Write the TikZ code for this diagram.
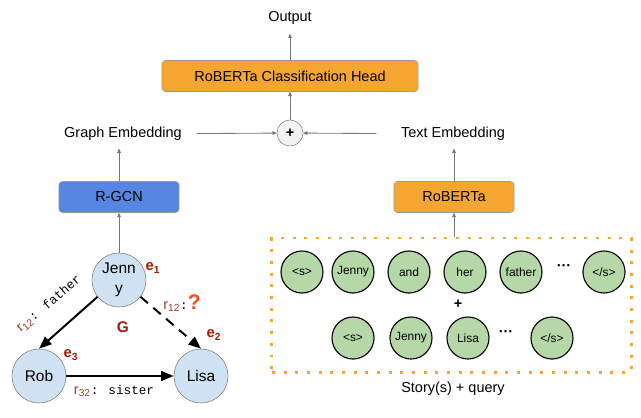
\documentclass[tikz,border=0pt]{standalone}
\usepackage{fontspec}
\setmainfont{Liberation Sans}
\newfontfamily\monofont{Liberation Mono}
\usetikzlibrary{positioning,arrows.meta,shapes.geometric,calc}
\definecolor{headorange}{HTML}{F5A631}
\definecolor{gcnblue}{HTML}{5586E1}
\definecolor{entblue}{HTML}{CFE2F3}
\definecolor{tokgreen}{HTML}{B6D7A8}
\definecolor{relred}{HTML}{A63A28}
\definecolor{entred}{HTML}{A61C00}
\definecolor{qorange}{HTML}{F4511E}
\definecolor{linegray}{HTML}{777777}

\begin{document}
\begin{tikzpicture}[x=0.025cm, y=-0.025cm,
  every node/.style={font=\fontsize{10.3}{12}\selectfont},
  layer/.style={draw=black!40, rounded corners=2.5pt, minimum height=0.775cm, align=center},
  ent/.style={circle, draw=black!50, fill=entblue, minimum size=1.35cm, inner sep=0pt, align=center, font=\fontsize{11}{14}\selectfont},
  tok/.style={circle, draw=black, line width=0.8pt, fill=tokgreen, minimum size=1.05cm, inner sep=0pt, font=\fontsize{8.5}{10}\selectfont},
  flow/.style={draw=linegray, line width=0.6pt, -{Triangle[length=3pt,width=2.6pt]}},
  rel/.style={line width=1.4pt, -{Triangle[length=9pt,width=7pt]}},
  elabel/.style={text=entred, font=\fontsize{10.5}{12}\selectfont\bfseries}
]
\useasboundingbox (0,0) rectangle (641,417);

% model stack
\node (out) at (290,18) {Output};
\node[layer, fill=headorange, minimum width=6.4cm] (head) at (290,76) {RoBERTa Classification Head};
\node[circle, draw=black!50, fill=black!5, minimum size=0.65cm, inner sep=0pt] (plus) at (290,133) {\bfseries +};
\node (gemb) at (123,134) {Graph Embedding};
\node (temb) at (453,134) {Text Embedding};
\node[layer, fill=gcnblue, minimum width=3cm] (rgcn) at (119,197) {R-GCN};
\node[layer, fill=headorange, minimum width=3cm] (roberta) at (454,197) {RoBERTa};

% graph G
\node[ent] (jenny) at (119,280) {Jenn\\y};
\node[ent] (rob) at (39,376) {Rob};
\node[ent] (lisa) at (201,376) {Lisa};
\node[elabel] (e1) at (153,268) {e\textsubscript{1}};
\node[elabel] (e2) at (214,335) {e\textsubscript{2}};
\node[elabel] (e3) at (71,355) {e\textsubscript{3}};
\node[elabel, font=\fontsize{11}{12}\selectfont\bfseries] (glbl) at (123,327) {G};

\draw[rel] (jenny.218) -- (rob.north);
\draw[rel, dash pattern=on 7pt off 5pt] (jenny.322) -- (lisa.north);
\draw[rel] (rob) -- (lisa);

\node[rotate=41, inner sep=1pt] (rfather) at (49,304) {\textcolor{relred}{r\textsubscript{12}}{\monofont\fontsize{9}{10}\selectfont: father}};
\node[inner sep=1pt] (rquery) at (182,303) {\textcolor{relred}{r\textsubscript{12}}{\monofont\fontsize{9}{10}\selectfont:}\textcolor{qorange}{\fontsize{15}{15}\selectfont\bfseries ?}};
\node[inner sep=1pt] (rsister) at (114,391) {\textcolor{relred}{r\textsubscript{32}}{\monofont\fontsize{9}{10}\selectfont: sister}};

% story and query tokens
\node[draw=headorange, line width=2.1pt, dash pattern=on 2.1pt off 6.2pt, minimum width=8.975cm, minimum height=3.35cm] (story) at (451.5,305) {};
\node (storylbl) at (453,389) {Story(s) + query};

\foreach \tx/\tw [count=\i] in {302/{<s>}, 353/Jenny, 409/and, 465/her, 521/father, 604/{</s>}}
  \node[tok] (s\i) at (\tx,272) {\tw};
\node (sdots) at (564,268) {\bfseries ···};
\node (qplus) at (458,304) {\bfseries +};
\foreach \tx/\tw [count=\i] in {353/{<s>}, 411/Jenny, 468/Lisa, 552/{</s>}}
  \node[tok] (q\i) at (\tx,338) {\tw};
\node (qdots) at (506,334) {\bfseries ···};

% connections
\draw[flow, shorten >=3pt] (head) -- (out);
\draw[flow] (plus) -- (head);
\draw[flow, shorten <=7pt] (gemb) -- (plus);
\draw[flow, shorten <=14pt] (temb) -- (plus);
\draw[flow, shorten >=2pt] (rgcn.north) -- (rgcn.north |- gemb.south);
\draw[flow, shorten >=2pt] (roberta.north) -- (roberta.north |- temb.south);
\draw[flow] (jenny) -- (rgcn);
\draw[flow] (story.north -| roberta) -- (roberta);
\end{tikzpicture}
\end{document}
